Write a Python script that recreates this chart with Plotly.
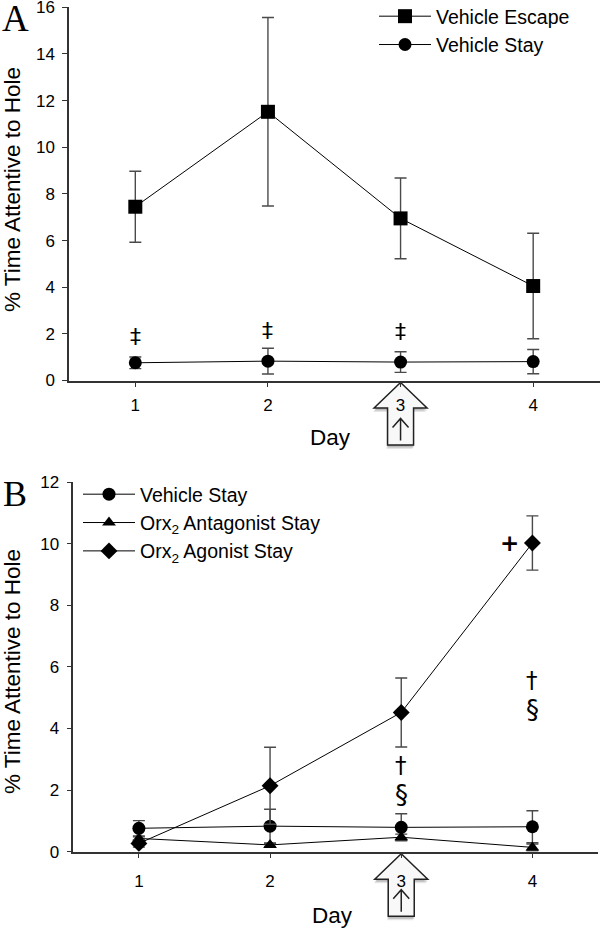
import plotly.graph_objects as go

# ---------------- data ----------------
days = [1, 2, 3, 4]
day_labels = ["1", "2", "3", "4"]

# Panel A
veh_escape = [7.45, 11.52, 6.95, 4.05]
veh_escape_err = [1.52, 4.04, 1.73, 2.26]
veh_stay = [0.76, 0.83, 0.79, 0.81]
veh_stay_err = [0.25, 0.55, 0.44, 0.52]

# Panel B
antag_stay = [0.43, 0.22, 0.47, 0.14]
antag_stay_err = [0.05, 0.05, 0.10, 0.11]
agon_stay = [0.27, 2.14, 4.52, 10.02]
agon_stay_err = [0.12, 1.25, 1.12, 0.88]

# significance marks
sigA_x = [1, 2, 3]
sigA_y = [1.9, 2.15, 2.1]
sigA_text = ["‡", "‡", "‡"]
sigB_x = [3, 3, 4, 4]
sigB_y = [2.82, 1.84, 5.58, 4.6]
sigB_text = ["†", "§", "†", "§"]
plus_x = [4]
plus_y = [10.02]

FONT = "Liberation Sans, Arial, sans-serif"
SERIF = "Liberation Serif, Times New Roman, serif"
W, H = 600, 930

fig = go.Figure()

err_style = dict(type="data", color="#4a4a4a", thickness=1.4, width=6)


def trace(x, y, err, name, symbol, size, xa, ya, legend):
    return go.Scatter(
        x=x, y=y, name=name, mode="lines+markers",
        error_y=dict(array=err, **err_style),
        line=dict(color="black", width=1),
        marker=dict(symbol=symbol, size=size, color="black"),
        xaxis=xa, yaxis=ya, legend=legend, cliponaxis=False,
    )


fig.add_trace(trace(days, veh_escape, veh_escape_err, "Vehicle Escape", "square", 14, "x", "y", "legend"))
fig.add_trace(trace(days, veh_stay, veh_stay_err, "Vehicle Stay", "circle", 13, "x", "y", "legend"))

fig.add_trace(trace(days, veh_stay, veh_stay_err, "Vehicle Stay", "circle", 13, "x2", "y2", "legend2"))
fig.add_trace(trace(days, antag_stay, antag_stay_err, "Orx<sub>2</sub> Antagonist Stay", "triangle-up", 12, "x2", "y2", "legend2"))
fig.add_trace(trace(days, agon_stay, agon_stay_err, "Orx<sub>2</sub> Agonist Stay", "diamond", 13, "x2", "y2", "legend2"))

axis_common = dict(
    showline=True, linecolor="#333", linewidth=1.5, ticks="outside", ticklen=5,
    tickcolor="#333", tickwidth=1.2, showgrid=False, zeroline=False,
    ticklabeloverflow="allow",
    tickfont=dict(family=FONT, size=17, color="black"),
)

fig.update_layout(
    width=W, height=H, margin=dict(l=0, r=0, t=0, b=0, autoexpand=False),
    paper_bgcolor="white", plot_bgcolor="white", showlegend=True,
    xaxis=dict(domain=[69 / W, 599.5 / W], range=[0.5, 4.5], tickvals=days, ticktext=day_labels,
               anchor="y", ticklabelstandoff=3, **axis_common),
    yaxis=dict(domain=[1 - 380.5 / H, 1 - 7.3 / H], range=[0, 16], dtick=2, anchor="x",
               ticklabelstandoff=4, **axis_common),
    xaxis2=dict(domain=[73.3 / W, 598 / W], range=[0.5, 4.5], tickvals=days, ticktext=day_labels,
                anchor="y2", ticklabelstandoff=8, **axis_common),
    yaxis2=dict(domain=[1 - 851.7 / H, 1 - 482 / H], range=[0, 12], dtick=2, anchor="x2",
                ticklabelstandoff=4, **axis_common),
    legend=dict(x=374 / W, y=1 + 3 / H, xanchor="left", yanchor="top",
                font=dict(family=FONT, size=19.5, color="black"),
                bgcolor="rgba(0,0,0,0)", tracegroupgap=0, itemwidth=52),
    legend2=dict(x=78 / W, y=1 - 475 / H, xanchor="left", yanchor="top",
                 font=dict(family=FONT, size=19.5, color="black"),
                 bgcolor="rgba(0,0,0,0)", tracegroupgap=0, itemwidth=52),
)

annotations = []


def paper_text(text, x, y, size, family=FONT, angle=0):
    return dict(text=text, x=x / W, y=1 - y / H, xref="paper", yref="paper",
                xanchor="center", yanchor="middle", textangle=angle, showarrow=False,
                font=dict(family=family, size=size, color="black"))


# panel letters
annotations.append(paper_text("A", 15.5, 19, 37, SERIF))
annotations.append(paper_text("B", 15, 494, 36, SERIF))
# y titles
annotations.append(paper_text("% Time Attentive to Hole", 12, 190, 22.5, angle=-90))
annotations.append(paper_text("% Time Attentive to Hole", 12, 672, 22.5, angle=-90))
# x titles
annotations.append(paper_text("Day", 330, 437, 22.5))
annotations.append(paper_text("Day", 332.5, 915, 22.5))

# significance marks
for xv, yv, t in zip(sigA_x, sigA_y, sigA_text):
    annotations.append(dict(text=t, x=xv, y=yv, xref="x", yref="y", showarrow=False,
                            xanchor="center", yanchor="middle",
                            font=dict(family="DejaVu Sans", size=22, color="black")))
for xv, yv, t in zip(sigB_x, sigB_y, sigB_text):
    annotations.append(dict(text=t, x=xv, y=yv, xref="x2", yref="y2", showarrow=False,
                            xanchor="center", yanchor="middle",
                            font=dict(family="DejaVu Sans", size=26 if t == "§" else 23, color="black")))
for xv, yv in zip(plus_x, plus_y):
    annotations.append(dict(text="<b>+</b>", x=xv, y=yv, xref="x2", yref="y2", showarrow=False,
                            xshift=-23, xanchor="center", yanchor="middle",
                            font=dict(family="DejaVu Sans", size=23, color="black")))
fig.update_layout(annotations=annotations)


# hollow "treatment day" arrows below day 3 (pixel-sized, anchored at day 3 on the x axis)
def arrow_path(dx=0, dy=0):
    pts = [(0, -2), (26.5, -27.5), (13, -27.5), (13, -64.5), (-13, -64.5), (-13, -27.5), (-26.5, -27.5)]
    return "M " + " L ".join(f"{x + dx},{y + dy}" for x, y in pts) + " Z"


shapes = []
for xr, yr in (("x", "y domain"), ("x2", "y2 domain")):
    base = dict(type="path", xref=xr, yref=yr, xsizemode="pixel", ysizemode="pixel",
                xanchor=3, yanchor=0, layer="below")
    shapes.append(dict(base, path=arrow_path(-1, -4), fillcolor="rgba(0,0,0,0.10)", line=dict(width=0)))
    shapes.append(dict(base, path=arrow_path(0, -2.5), fillcolor="rgba(0,0,0,0.18)", line=dict(width=0)))
    shapes.append(dict(base, path=arrow_path(), fillcolor="#f8f8f8", line=dict(color="#222", width=1.5)))
    shapes.append(dict(base, path="M 0,-38 L 0,-60 M -8,-47 L 0,-38 L 8,-47", line=dict(color="#222", width=1.5)))
fig.update_layout(shapes=shapes)

fig.write_html("out.html", config={"displayModeBar": False},
               post_script="document.body.style.margin='0px';")
